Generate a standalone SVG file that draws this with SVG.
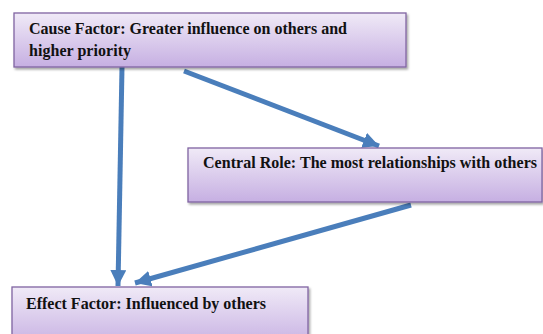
<svg xmlns="http://www.w3.org/2000/svg" width="543" height="334" viewBox="0 0 543 334">
<defs>
<linearGradient id="g" x1="0" y1="0" x2="0" y2="1">
<stop offset="0" stop-color="#f0eaf7"/>
<stop offset="1" stop-color="#c6afe2"/>
</linearGradient>
<filter id="sh" x="-5%" y="-10%" width="110%" height="130%">
<feDropShadow dx="1.5" dy="2" stdDeviation="1.2" flood-color="#000" flood-opacity="0.35"/>
</filter>
<marker id="ah" viewBox="0 0 10 10" refX="10" refY="5" markerWidth="3.2" markerHeight="3.2" markerUnits="strokeWidth" orient="auto">
<path d="M0,0 L10,5 L0,10 z" fill="#4a7ebb"/>
</marker>
</defs>
<style>
.box{fill:url(#g);stroke:#8064a2;stroke-width:1.3;filter:url(#sh)}
.t{font-weight:bold;font-size:16px;fill:#111}
.c{stroke:#4a7ebb;stroke-width:5;fill:none;marker-end:url(#ah)}
</style>
<rect width="543" height="334" fill="#fff"/>
<g id="connectors">
<line class="c" x1="122" y1="67" x2="118" y2="286"/>
<line class="c" x1="184" y1="71" x2="379" y2="146"/>
<line class="c" x1="411" y1="205" x2="135" y2="283"/>
</g>
<g id="cause">
<rect class="box" x="14" y="13" width="392" height="54"/>
<text class="t" font-family="Liberation Serif, serif" x="29" y="34" textLength="318">Cause Factor: Greater influence on others and</text>
<text class="t" font-family="Liberation Serif, serif" x="29" y="56" textLength="102">higher priority</text>
</g>
<g id="central">
<rect class="box" x="188" y="148" width="354" height="54"/>
<text class="t" font-family="Liberation Serif, serif" x="203" y="168" textLength="334">Central Role: The most relationships with others</text>
</g>
<g id="effect">
<rect class="box" x="12" y="287" width="296" height="60"/>
<text class="t" font-family="Liberation Serif, serif" x="26" y="309" textLength="240">Effect Factor: Influenced by others</text>
</g>
</svg>
